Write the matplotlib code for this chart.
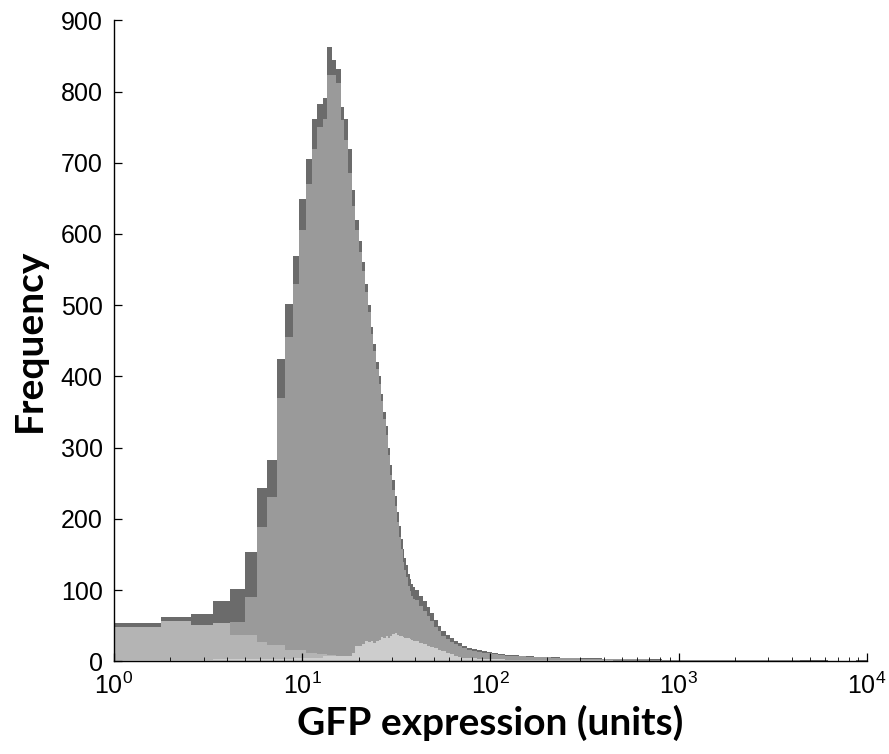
import numpy as np
import matplotlib
matplotlib.use("Agg")
import matplotlib.pyplot as plt
from matplotlib.ticker import FixedLocator, LogLocator, NullFormatter

# histogram bins: narrow linear bins up to ~40 units, wider bins in the tail
bin_width = 0.79
fine_edges = 1.0 + bin_width * np.arange(50)
tail_edges = [42, 44, 46, 48, 50, 52.5, 55, 58, 61, 64, 67, 71, 75, 80, 85, 90, 96,
              102, 110, 120, 130, 142, 155, 170, 190, 210, 235, 265, 300, 340, 390,
              450, 520, 600, 700, 820, 960, 1100, 1300, 1550, 1850, 2200, 2600, 3100,
              3700, 4400, 5200, 6200, 7400, 8800, 10000]

# counts per bin, fine region
total_fine = [54, 62, 67, 84, 101, 153, 244, 282, 424, 501, 569, 649, 706, 761, 782, 791,
              862, 844, 831, 778, 761, 720, 662, 620, 590, 560, 530, 500, 470, 445, 420,
              400, 375, 350, 330, 300, 275, 255, 232, 210, 190, 172, 158, 145, 135, 122,
              115, 108, 104]
gated_fine = [12, 12, 12, 12, 55, 90, 189, 231, 370, 455, 530, 605, 670, 720, 750, 762,
              823, 823, 812, 760, 732, 685, 640, 605, 575, 548, 518, 490, 460, 435, 410,
              390, 365, 340, 318, 290, 262, 240, 218, 195, 175, 158, 140, 128, 118, 106,
              98, 92, 88]
low_fine = [48, 56, 51, 54, 36.5, 36.5, 27, 22.5, 22.5, 15.5, 15.5, 15.5, 11, 11, 10, 10,
            9, 9, 8, 8, 7, 7, 7, 7, 6.5, 6.5, 6.5, 6, 6, 6, 6, 6, 5.5, 5.5, 5.5, 5.5, 5.5,
            5, 5, 5, 5, 5, 5, 5, 5, 5, 5, 5, 5]
bright_fine = [2, 2, 2, 3, 3, 3, 3, 3, 3, 3, 5, 5, 5, 5, 5, 7, 7, 7, 7, 7, 7, 7, 12, 22,
               22, 24, 29, 27, 29, 25, 28, 30, 34, 32, 35, 33, 36, 38, 39, 37, 36, 35,
               34, 33, 32, 33, 31, 30, 29]

# counts per bin, tail region
total_tail = [100, 92, 84, 76, 68, 58, 50, 43, 37, 32, 28, 25, 22, 19, 17, 15.5, 14, 13,
              11.5, 10, 9, 8.5, 8, 7, 6.5, 6, 5.5, 5, 4.6, 4.3, 4, 3.6, 3.3, 3, 2.8, 2.6,
              2.4, 2.2, 2, 2, 1.8, 1.7, 1.6, 1.5, 1.4, 1.3, 1.2, 1.1, 1.0, 1.0, 1.5]
gated_tail = [86, 78, 70, 63, 56, 48, 42, 36, 31, 27, 24, 21, 19, 16.5, 15, 13.5, 12, 11,
              10, 8.8, 8, 7.5, 7, 6.2, 5.8, 5.3, 4.9, 4.5, 4.1, 3.8, 3.5, 3.2, 2.9, 2.7,
              2.5, 2.3, 2.1, 2.0, 1.8, 1.8, 1.6, 1.5, 1.4, 1.3, 1.2, 1.1, 1.0, 1.0, 0.9,
              0.9, 1.0]
low_tail = [5, 5, 5, 4.5, 4.5, 4, 4, 4, 3.5, 3.5, 3.5, 3, 3, 3, 3, 2.8, 2.8, 2.6, 2.5,
            2.4, 2.2, 2, 2, 1.8, 1.7, 1.6, 1.5, 1.4, 1.3, 1.2, 1.1, 1, 1, 1, 0.9, 0.9,
            0.8, 0.8, 0.8, 0.7, 0.7, 0.7, 0.6, 0.6, 0.6, 0.5, 0.5, 0.5, 0.5, 0.5, 0.5]
bright_tail = [28, 26, 24, 22, 20, 18, 16, 14, 12, 10, 7, 6, 5, 4.5, 4, 3.6, 3.3, 3, 2.8,
               2.6, 2.4, 2.2, 2, 1.9, 1.8, 1.7, 1.6, 1.5, 1.4, 1.3, 1.2, 1.1, 1, 1, 0.9,
               0.9, 0.8, 0.8, 0.8, 0.7, 0.7, 0.7, 0.6, 0.6, 0.6, 0.5, 0.5, 0.5, 0.5, 0.5,
               0.5]

y_ticks = [0, 100, 200, 300, 400, 500, 600, 700, 800, 900]
x_ticks = [1, 10, 100, 1000, 10000]
x_tick_labels = [r'$\mathregular{10^{0}}$', r'$\mathregular{10^{1}}$',
                 r'$\mathregular{10^{2}}$', r'$\mathregular{10^{3}}$',
                 r'$\mathregular{10^{4}}$']

edges = np.concatenate([fine_edges, tail_edges])
layers = [
    (total_fine + total_tail, '#6b6b6b'),
    (gated_fine + gated_tail, '#9a9a9a'),
    (low_fine + low_tail, '#b4b4b4'),
    (bright_fine + bright_tail, '#cdcdcd'),
]

plt.rcParams['font.family'] = ['Liberation Sans', 'DejaVu Sans']
plt.rcParams['mathtext.fontset'] = 'custom'
plt.rcParams['mathtext.rm'] = 'Liberation Sans'

fig = plt.figure(figsize=(8.89, 7.54), dpi=100)
ax = fig.add_axes([0.128, 0.123, 0.847, 0.85])

for counts, colour in layers:
    ax.stairs(counts, edges, fill=True, color=colour, linewidth=0)

ax.set_xscale('log')
ax.set_xlim(1, 10000)
ax.set_ylim(0, 900)
ax.xaxis.set_major_locator(FixedLocator(x_ticks))
ax.set_xticklabels(x_tick_labels)
ax.xaxis.set_minor_locator(LogLocator(base=10, subs=np.arange(2, 10)))
ax.xaxis.set_minor_formatter(NullFormatter())
ax.set_yticks(y_ticks)

for side in ['top', 'right']:
    ax.spines[side].set_visible(False)
for side in ['left', 'bottom']:
    ax.spines[side].set_linewidth(1.0)
ax.tick_params(axis='both', which='major', direction='in', length=6, width=0.9,
               labelsize=18, pad=8)
ax.tick_params(axis='x', which='minor', direction='in', length=3, width=0.6)

label_font = dict(family='Lato', weight='bold', size=28)
ax.set_xlabel('GFP expression (units)', fontdict=label_font, labelpad=4)
ax.set_ylabel('Frequency', fontdict=label_font, labelpad=10)

fig.savefig('out.png', dpi=100)
